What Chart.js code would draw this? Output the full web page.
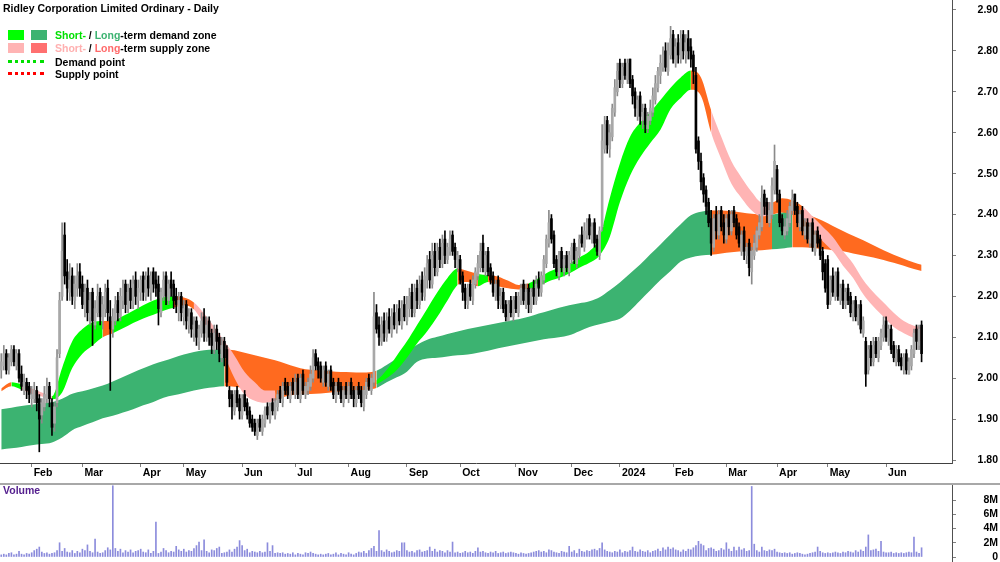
<!DOCTYPE html>
<html><head><meta charset="utf-8">
<script src="https://cdn.jsdelivr.net/npm/chart.js@4.4.1/dist/chart.umd.min.js"></script>
<style>
html,body{margin:0;padding:0;background:#fff;width:1000px;height:562px;overflow:hidden;font-family:"Liberation Sans",Arial,sans-serif;}
#wrap{position:relative;width:1000px;height:562px;}
#pc{position:absolute;left:0;top:0;}
#vc{position:absolute;left:0;top:485px;}
#sep{position:absolute;left:0;top:483px;width:1000px;height:2px;background:#a8a8a8;}
.t{position:absolute;font-weight:bold;font-size:10px;line-height:12px;white-space:nowrap;color:#000;z-index:5;}
.sw{position:absolute;width:16px;height:10px;z-index:5;}
.dl{position:absolute;width:36px;height:0;z-index:5;}
</style></head>
<body><div id="wrap">
<canvas id="pc" width="1000" height="483"></canvas>
<div id="sep"></div>
<canvas id="vc" width="1000" height="77"></canvas>
<div class="t" style="left:3px;top:2px;font-size:10.5px;">Ridley Corporation Limited Ordinary - Daily</div>
<div class="sw" style="left:8px;top:30px;background:#00ff00"></div>
<div class="sw" style="left:31px;top:30px;background:#3cb371"></div>
<div class="t" style="left:55px;top:29px;font-size:10.5px;"><span style="color:#00e000">Short-</span> / <span style="color:#3cb371">Long</span>-term demand zone</div>
<div class="sw" style="left:8px;top:43px;background:#ffb4b4"></div>
<div class="sw" style="left:31px;top:43px;background:#ff7070"></div>
<div class="t" style="left:55px;top:42px;font-size:10.5px;"><span style="color:#ffb0b0">Short-</span> / <span style="color:#ff6a6a">Long</span>-term supply zone</div>
<div class="dl" style="left:8px;top:60px;border-top:3px dotted #00e000"></div>
<div class="t" style="left:55px;top:56px;font-size:10.5px;">Demand point</div>
<div class="dl" style="left:8px;top:72px;border-top:3px dotted #ff0000"></div>
<div class="t" style="left:55px;top:68px;font-size:10.5px;">Supply point</div>
<div class="t" style="left:3px;top:484px;color:#55208f;font-size:10.5px;">Volume</div>
</div>
<script>
// ---- axis labels ----
const monthLabels = ['Feb','Mar','Apr','May','Jun','Jul','Aug','Sep','Oct','Nov','Dec','2024','Feb','Mar','Apr','May','Jun'];
const monthStart  = [12,32,55,72,95,116,137,160,181,203,225,244,265,286,306,326,349];
const priceTicks  = [1.8,1.9,2.0,2.1,2.2,2.3,2.4,2.5,2.6,2.7,2.8,2.9];
const volumeTicks = [0,2,4,6,8];

// ---- daily candles (trading day index 0..363) ----
const opens = [
2.02,2.03,2.06,2.02,2.04,2.07,2.03,2.06,2.01,1.97,1.99,1.98,
1.95,1.95,1.97,1.95,1.91,1.93,1.95,1.98,1.94,1.89,1.94,2.06,
2.20,2.35,2.26,2.21,2.25,2.19,2.22,
2.26,2.23,2.17,2.22,2.15,2.21,2.13,2.16,2.21,2.14,2.17,2.22,2.15,
2.12,2.14,2.19,2.15,2.19,2.23,2.17,2.22,2.18,2.24,2.19,2.21,2.25,2.20,2.25,2.21,2.26,
2.24,2.23,2.16,2.20,2.25,2.19,2.24,2.23,
2.20,2.16,2.20,2.15,2.18,2.13,2.16,2.11,2.14,2.09,2.11,2.15,
2.10,2.14,2.11,2.07,2.12,2.10,2.05,2.09,2.07,
1.97,1.96,1.92,1.97,1.95,1.91,1.96,1.94,1.92,1.90,1.89,
1.86,1.90,1.87,1.89,1.93,1.90,1.94,1.91,1.93,1.97,1.94,1.99,
1.98,1.95,1.99,1.96,2.00,1.95,2.01,1.96,1.97,1.98,2.00,2.06,2.04,
2.03,1.99,2.03,1.98,2.02,1.99,1.95,1.99,1.98,1.94,1.98,1.95,1.99,1.97,1.94,
1.98,1.97,1.93,1.96,2.00,1.97,1.99,
2.16,2.13,2.09,2.14,2.10,2.15,2.11,2.16,2.12,2.17,2.13,2.18,2.14,
2.17,2.21,2.16,2.22,2.18,2.24,2.20,2.24,2.29,2.23,
2.31,2.26,2.32,2.28,2.34,2.29,2.31,2.35,2.32,2.27,
2.29,2.25,2.22,2.18,2.23,2.19,
2.23,2.25,2.27,2.33,2.26,2.31,
2.27,2.25,2.20,2.24,2.18,2.21,2.18,
2.14,2.19,2.15,2.20,2.16,2.19,2.23,
2.18,2.22,2.17,2.22,2.19,2.24,
2.21,2.24,2.28,2.33,
2.39,2.35,2.29,2.25,2.31,2.26,
2.30,2.26,2.29,2.33,2.28,2.30,2.35,2.32,
2.35,2.39,2.34,2.38,2.34,2.30,
2.37,
2.56,2.63,2.56,2.59,2.65,
2.70,2.77,2.72,2.77,2.73,2.78,
2.73,2.70,2.64,2.69,2.63,2.66,2.61,2.63,
2.65,2.68,2.71,2.74,2.76,2.80,
2.75,2.79,2.84,2.77,2.82,2.78,2.84,2.79,
2.83,2.81,2.79,2.74,2.58,2.53,2.49,2.46,
2.43,2.39,2.32,2.40,2.35,2.41,2.38,2.34,2.40,2.36,2.41,2.39,
2.37,2.31,2.36,2.30,2.33,2.26,
2.30,2.32,2.35,2.37,2.45,2.43,
2.38,2.40,2.46,2.51,
2.45,2.39,2.35,2.36,2.38,2.41,
2.45,2.42,2.37,2.41,2.35,2.38,
2.33,2.38,2.31,2.36,2.34,2.31,2.28,
2.29,2.19,2.25,2.20,2.26,2.19,2.23,2.18,
2.22,2.20,2.15,2.19,2.14,2.18,2.11,
2.09,2.02,2.08,2.04,2.09,
2.05,2.08,2.10,2.14,2.09,2.12,2.08,
2.04,2.07,2.05,2.02,2.06,2.01,
2.03,2.06,2.12,2.08,2.13];

const highs = [
2.06,2.08,2.07,2.06,2.08,2.08,2.07,2.07,2.03,2.01,2.00,1.99,
1.98,1.99,1.98,1.96,1.95,1.98,2.00,1.99,1.95,1.94,2.07,2.21,
2.38,2.38,2.29,2.28,2.27,2.25,2.28,
2.28,2.25,2.23,2.24,2.21,2.22,2.19,2.23,2.22,2.20,2.23,2.24,2.19,
2.17,2.20,2.21,2.22,2.24,2.24,2.23,2.24,2.25,2.26,2.24,2.25,2.26,2.26,2.27,2.26,2.27,
2.26,2.25,2.22,2.26,2.26,2.24,2.26,2.24,
2.22,2.21,2.21,2.19,2.19,2.17,2.17,2.15,2.15,2.13,2.16,2.17,
2.15,2.15,2.12,2.13,2.13,2.11,2.10,2.10,2.08,
1.98,1.97,1.97,1.98,1.96,1.96,1.97,1.95,1.93,1.91,1.90,
1.90,1.91,1.91,1.93,1.94,1.94,1.95,1.95,1.97,1.98,1.99,2.00,
1.99,1.99,2.00,2.01,2.01,2.01,2.02,1.99,2.00,2.03,2.07,2.07,2.05,
2.04,2.03,2.04,2.02,2.03,2.00,1.99,2.00,1.99,1.98,1.99,1.99,2.00,1.98,1.98,
1.99,1.98,1.98,2.00,2.01,2.01,2.21,
2.18,2.15,2.15,2.16,2.16,2.17,2.17,2.18,2.18,2.19,2.19,2.20,2.20,
2.22,2.23,2.23,2.24,2.25,2.26,2.27,2.30,2.31,2.33,
2.33,2.33,2.34,2.35,2.36,2.33,2.36,2.36,2.33,2.31,
2.30,2.26,2.23,2.23,2.24,2.25,
2.27,2.30,2.33,2.35,2.31,2.32,
2.28,2.26,2.24,2.25,2.22,2.22,2.19,
2.19,2.20,2.20,2.21,2.21,2.23,2.24,
2.23,2.23,2.22,2.24,2.25,2.26,
2.26,2.30,2.35,2.41,
2.40,2.36,2.30,2.31,2.32,2.30,
2.31,2.31,2.33,2.34,2.32,2.35,2.37,2.38,
2.39,2.40,2.38,2.39,2.35,2.37,
2.62,
2.64,2.64,2.62,2.67,2.73,
2.77,2.78,2.77,2.78,2.78,2.78,
2.74,2.71,2.69,2.70,2.67,2.67,2.65,2.68,
2.71,2.74,2.76,2.79,2.81,2.82,
2.82,2.86,2.85,2.83,2.84,2.85,2.85,2.84,
2.85,2.83,2.80,2.76,2.59,2.55,2.50,2.47,
2.44,2.41,2.40,2.42,2.41,2.42,2.40,2.40,2.41,2.41,2.42,2.40,
2.38,2.36,2.37,2.33,2.34,2.32,
2.35,2.37,2.40,2.47,2.46,2.44,
2.43,2.49,2.57,2.52,
2.46,2.40,2.39,2.41,2.43,2.46,
2.45,2.43,2.41,2.42,2.39,2.39,
2.38,2.39,2.36,2.37,2.35,2.32,2.29,
2.30,2.25,2.27,2.26,2.27,2.23,2.24,2.22,
2.23,2.21,2.19,2.20,2.18,2.19,2.15,
2.10,2.08,2.09,2.10,2.10,
2.10,2.12,2.15,2.15,2.13,2.13,2.09,
2.08,2.08,2.06,2.06,2.07,2.05,
2.08,2.12,2.13,2.13,2.14];

const lows = [
2.00,2.02,2.01,2.01,2.03,2.03,2.02,1.99,1.97,1.96,1.95,1.94,
1.93,1.94,1.92,1.82,1.89,1.92,1.94,1.93,1.86,1.87,1.93,2.05,
2.19,2.23,2.19,2.19,2.18,2.17,2.20,
2.20,2.17,2.15,2.14,2.13,2.08,2.12,2.15,2.13,2.12,2.15,2.14,1.97,
2.10,2.13,2.14,2.14,2.17,2.16,2.16,2.17,2.17,2.18,2.17,2.19,2.19,2.19,2.20,2.19,2.21,
2.20,2.13,2.15,2.19,2.18,2.18,2.20,2.17,
2.16,2.14,2.14,2.13,2.12,2.11,2.10,2.09,2.08,2.07,2.10,2.09,
2.09,2.08,2.06,2.06,2.07,2.04,2.04,2.03,1.98,
1.93,1.90,1.91,1.93,1.90,1.90,1.92,1.90,1.88,1.87,1.86,
1.85,1.87,1.86,1.88,1.90,1.89,1.91,1.90,1.92,1.94,1.93,1.96,
1.95,1.94,1.96,1.95,1.95,1.94,1.96,1.95,1.96,1.97,1.99,2.02,2.00,
1.99,1.98,1.98,1.97,1.97,1.95,1.94,1.96,1.94,1.93,1.95,1.94,1.95,1.93,1.93,
1.95,1.93,1.92,1.95,1.97,1.96,1.98,
2.11,2.08,2.08,2.09,2.09,2.11,2.10,2.12,2.11,2.13,2.12,2.14,2.13,
2.15,2.15,2.15,2.17,2.17,2.19,2.19,2.22,2.22,2.22,
2.25,2.25,2.27,2.27,2.28,2.28,2.30,2.30,2.27,2.26,
2.23,2.19,2.17,2.17,2.19,2.18,
2.22,2.24,2.26,2.26,2.25,2.25,
2.23,2.20,2.19,2.17,2.17,2.16,2.14,
2.14,2.15,2.14,2.16,2.15,2.18,2.18,
2.17,2.16,2.16,2.18,2.18,2.20,
2.20,2.23,2.27,2.32,
2.33,2.27,2.25,2.24,2.26,2.25,
2.26,2.25,2.28,2.28,2.27,2.29,2.32,2.31,
2.34,2.34,2.33,2.32,2.30,2.29,
2.36,
2.55,2.55,2.54,2.58,2.64,
2.69,2.71,2.71,2.73,2.72,2.71,
2.67,2.64,2.63,2.62,2.61,2.60,2.60,2.62,
2.64,2.67,2.70,2.72,2.75,2.75,
2.74,2.78,2.77,2.76,2.77,2.77,2.78,2.77,
2.78,2.76,2.72,2.55,2.51,2.46,2.43,2.40,
2.37,2.30,2.31,2.34,2.34,2.36,2.33,2.33,2.35,2.35,2.37,2.34,
2.32,2.30,2.29,2.28,2.25,2.23,
2.29,2.31,2.34,2.36,2.40,2.38,
2.37,2.39,2.45,2.43,
2.37,2.35,2.34,2.35,2.37,2.40,
2.40,2.37,2.36,2.35,2.34,2.33,
2.32,2.31,2.30,2.32,2.29,2.24,2.21,
2.17,2.18,2.20,2.19,2.19,2.18,2.17,2.17,
2.18,2.15,2.14,2.14,2.13,2.11,2.10,
1.98,2.01,2.03,2.03,2.05,
2.04,2.07,2.09,2.09,2.08,2.06,2.04,
2.03,2.03,2.02,2.01,2.01,2.01,
2.02,2.05,2.07,2.07,2.04];

const closes = [
2.04,2.06,2.02,2.05,2.07,2.04,2.06,2.00,1.98,1.99,1.97,1.96,
1.96,1.97,1.94,1.90,1.94,1.96,1.98,1.95,1.88,1.93,2.05,2.19,
2.31,2.25,2.22,2.24,2.20,2.23,2.25,
2.22,2.18,2.21,2.16,2.19,2.14,2.17,2.20,2.15,2.18,2.21,2.16,2.12,
2.15,2.18,2.16,2.20,2.22,2.18,2.21,2.19,2.23,2.20,2.22,2.24,2.21,2.24,2.22,2.25,2.23,
2.22,2.17,2.21,2.24,2.20,2.23,2.22,2.19,
2.18,2.19,2.16,2.17,2.14,2.15,2.12,2.13,2.10,2.12,2.14,2.11,
2.13,2.10,2.08,2.11,2.09,2.06,2.08,2.05,1.99,
1.95,1.93,1.96,1.94,1.92,1.95,1.93,1.91,1.89,1.88,1.87,
1.89,1.88,1.90,1.92,1.91,1.93,1.92,1.94,1.96,1.95,1.98,1.97,
1.96,1.98,1.97,1.99,1.96,2.00,1.97,1.98,1.99,2.01,2.05,2.03,2.02,
2.00,2.02,1.99,2.01,1.98,1.96,1.98,1.97,1.95,1.97,1.96,1.98,1.96,1.95,1.97,
1.96,1.94,1.97,1.99,1.98,2.00,2.15,
2.12,2.10,2.13,2.11,2.14,2.12,2.15,2.13,2.16,2.14,2.17,2.15,2.18,
2.20,2.17,2.21,2.19,2.23,2.21,2.25,2.28,2.24,2.30,
2.27,2.31,2.29,2.33,2.30,2.32,2.34,2.31,2.29,2.30,
2.24,2.21,2.19,2.22,2.20,2.24,
2.26,2.28,2.31,2.27,2.30,2.26,
2.24,2.21,2.23,2.19,2.20,2.17,2.15,
2.18,2.16,2.19,2.17,2.20,2.22,2.19,
2.21,2.18,2.21,2.20,2.23,2.22,
2.25,2.29,2.34,2.38,
2.34,2.28,2.26,2.30,2.27,2.29,
2.27,2.30,2.32,2.29,2.31,2.34,2.33,2.36,
2.38,2.35,2.37,2.33,2.31,2.36,
2.58,
2.62,2.57,2.60,2.66,2.71,
2.75,2.73,2.76,2.74,2.77,2.72,
2.69,2.66,2.68,2.64,2.65,2.62,2.64,2.66,
2.69,2.72,2.75,2.77,2.79,2.76,
2.80,2.83,2.78,2.81,2.79,2.83,2.80,2.82,
2.80,2.78,2.75,2.56,2.53,2.48,2.45,2.42,
2.38,2.33,2.39,2.36,2.40,2.37,2.35,2.39,2.37,2.40,2.38,2.35,
2.33,2.35,2.31,2.32,2.27,2.31,
2.33,2.36,2.38,2.44,2.42,2.40,
2.41,2.47,2.53,2.45,
2.38,2.36,2.37,2.39,2.42,2.44,
2.41,2.38,2.40,2.36,2.37,2.34,
2.37,2.32,2.35,2.33,2.30,2.26,2.22,
2.18,2.24,2.21,2.25,2.20,2.22,2.19,2.21,
2.19,2.16,2.18,2.15,2.17,2.12,2.14,
2.01,2.07,2.05,2.08,2.06,
2.09,2.11,2.13,2.10,2.12,2.07,2.05,
2.06,2.04,2.03,2.05,2.02,2.04,
2.07,2.11,2.09,2.12,2.06];

// volume in millions of shares
const volumeM = [
0.3,0.4,0.3,0.5,0.6,0.3,0.4,0.8,0.4,0.3,
0.5,0.4,0.6,0.9,1.1,1.4,0.7,0.5,0.6,0.4,
0.5,0.6,0.9,2.0,0.8,1.2,0.7,0.6,0.9,0.5,
0.8,0.6,1.1,0.9,1.7,0.8,0.6,2.5,0.7,0.5,
0.6,0.9,1.3,1.0,10.0,1.2,0.8,1.1,0.6,0.9,
0.7,1.0,0.6,0.8,0.9,1.1,0.7,0.6,1.0,0.5,
0.8,4.9,0.5,0.7,1.2,0.9,0.6,0.8,0.7,1.5,
1.0,0.8,1.1,0.7,0.9,0.8,1.2,1.6,2.1,0.9,
2.4,0.8,0.6,1.0,0.9,1.2,1.4,0.5,0.6,0.7,
1.0,0.7,1.1,1.4,2.3,1.6,0.9,1.1,0.6,0.8,
0.7,0.6,0.8,0.6,0.7,2.0,0.8,1.6,0.5,0.6,
0.5,0.6,0.4,0.5,0.4,0.6,0.3,0.5,0.4,0.3,
0.6,0.5,0.7,0.5,0.4,0.3,0.4,0.3,0.4,0.5,
0.3,0.4,0.6,0.3,0.5,0.4,0.3,0.6,0.4,0.3,
0.5,0.7,0.6,0.8,0.5,0.9,1.2,1.5,0.8,3.7,
0.9,0.7,1.0,0.8,0.6,0.7,0.9,0.8,2.0,2.0,
0.9,0.7,0.8,0.6,0.9,1.0,0.7,0.8,0.9,1.4,
0.8,1.1,0.7,0.9,0.8,0.6,0.9,0.7,2.1,0.6,
0.7,0.5,0.6,0.8,0.6,0.7,0.5,0.8,1.3,0.7,
0.8,0.6,0.5,0.7,0.6,0.8,0.5,0.6,0.7,0.5,
0.6,0.7,0.6,0.5,0.4,0.6,0.5,0.4,0.5,0.6,
0.7,0.8,0.9,0.7,0.8,0.6,1.0,0.9,0.7,0.6,
0.5,0.8,0.7,0.6,1.5,0.7,0.9,0.5,1.1,0.8,
0.7,0.9,0.8,1.0,1.1,0.9,1.2,2.0,1.0,0.8,
0.7,0.6,0.8,0.7,1.0,0.6,0.8,0.7,0.9,1.4,
0.8,0.7,1.0,0.8,0.7,0.9,0.6,0.8,0.9,1.1,
0.8,1.3,1.0,1.4,1.1,1.3,1.0,0.9,0.7,1.0,
0.8,1.1,1.0,1.3,1.6,2.2,1.8,1.6,0.9,1.2,
1.3,1.1,0.8,0.9,1.2,1.0,2.0,1.1,0.8,1.4,
0.9,1.4,1.0,1.2,0.8,0.9,9.9,1.8,0.9,0.7,
1.4,0.9,0.8,1.0,0.9,1.1,0.7,0.6,0.5,0.6,
0.5,0.6,0.4,0.5,0.6,0.5,0.4,0.3,0.4,0.5,
0.6,0.7,1.4,0.8,0.6,0.5,0.6,0.5,0.6,0.7,
0.6,0.5,0.7,0.6,0.8,0.7,0.6,0.9,0.7,1.0,
0.8,1.4,3.1,0.9,1.0,1.1,0.8,2.2,0.7,0.6,
0.6,0.7,0.5,0.6,0.5,0.6,0.5,0.6,0.7,0.6,
2.8,0.7,0.5,1.3];

// ---- demand / supply zones, sampled every 4 trading days ----
const bandIdx = [0,4,8,12,16,20,24,28,32,36,40,44,48,52,56,60,64,68,72,76,80,84,88,92,96,100,104,108,112,116,120,124,128,132,136,140,144,148,152,156,160,164,168,172,176,180,184,188,192,196,200,204,208,212,216,220,224,228,232,236,240,244,248,252,256,260,264,268,272,276,280,284,288,292,296,300,304,308,312,316,320,324,328,332,336,340,344,348,352,356,360,363];
const shortUpper = [
1.975,1.990,1.985,1.975,1.965,1.956,2.025,2.090,2.120,2.137,
2.140,2.140,2.152,2.165,2.178,2.190,2.198,2.200,2.197,2.185,
2.158,2.125,2.090,2.055,2.015,1.990,1.970,1.970,1.975,1.985,
1.995,2.005,2.005,2.000,1.995,1.990,1.990,1.995,2.020,2.055,
2.090,2.130,2.170,2.210,2.245,2.268,2.262,2.255,2.252,2.248,
2.238,2.228,2.232,2.245,2.260,2.270,2.280,2.295,2.310,2.345,
2.440,2.525,2.590,2.625,2.650,2.680,2.710,2.735,2.752,2.735,
2.655,2.590,2.530,2.490,2.455,2.430,2.430,2.440,2.435,2.420,
2.395,2.370,2.345,2.310,2.280,2.240,2.210,2.185,2.160,2.140,
2.128,2.125];
const shortLower = [
1.968,1.980,1.972,1.962,1.955,1.948,1.965,2.025,2.060,2.080,
2.100,2.110,2.122,2.135,2.146,2.155,2.165,2.172,2.178,2.168,
2.132,2.100,2.055,2.000,1.960,1.945,1.940,1.945,1.955,1.960,
1.965,1.975,1.980,1.980,1.975,1.972,1.975,1.985,2.000,2.020,
2.050,2.085,2.115,2.150,2.190,2.228,2.235,2.225,2.235,2.225,
2.220,2.217,2.218,2.225,2.237,2.245,2.256,2.270,2.282,2.300,
2.345,2.430,2.495,2.540,2.575,2.607,2.658,2.685,2.705,2.690,
2.600,2.535,2.475,2.440,2.410,2.395,2.400,2.405,2.400,2.390,
2.365,2.335,2.310,2.275,2.245,2.205,2.175,2.150,2.125,2.110,
2.098,2.090];
const shortState = ['ogpppggggg','oggggggoop','pppppppooo','oooooooggg','gggggoogoo','oogggggggg','ggggggggoo','ppppppooop','pppppppppp','pp'].join('').split('');
const longUpper = [
1.924,1.928,1.932,1.935,1.938,1.941,1.950,1.962,1.968,1.975,
1.982,1.992,2.003,2.014,2.024,2.034,2.042,2.050,2.058,2.064,
2.068,2.070,2.071,2.068,2.062,2.056,2.050,2.044,2.036,2.028,
2.022,2.020,2.018,2.016,2.015,2.014,2.014,2.018,2.032,2.048,
2.064,2.082,2.094,2.101,2.108,2.114,2.120,2.125,2.130,2.135,
2.140,2.144,2.150,2.158,2.165,2.172,2.178,2.183,2.188,2.198,
2.215,2.234,2.256,2.278,2.303,2.327,2.352,2.376,2.398,2.407,
2.410,2.410,2.408,2.405,2.402,2.400,2.400,2.405,2.410,2.405,
2.395,2.385,2.372,2.360,2.348,2.337,2.325,2.313,2.302,2.292,
2.283,2.277];
const longLower = [
1.826,1.829,1.832,1.836,1.839,1.843,1.855,1.873,1.883,1.892,
1.902,1.908,1.916,1.924,1.934,1.942,1.952,1.958,1.964,1.970,
1.975,1.978,1.980,1.979,1.976,1.972,1.968,1.965,1.962,1.961,
1.961,1.962,1.964,1.966,1.968,1.970,1.972,1.976,1.990,2.002,
2.016,2.040,2.048,2.050,2.053,2.056,2.058,2.062,2.067,2.073,
2.078,2.083,2.088,2.093,2.097,2.100,2.105,2.115,2.125,2.132,
2.138,2.145,2.165,2.190,2.215,2.240,2.262,2.285,2.295,2.300,
2.302,2.305,2.308,2.310,2.312,2.313,2.315,2.317,2.320,2.320,
2.318,2.316,2.313,2.310,2.305,2.300,2.295,2.289,2.282,2.275,
2.267,2.262];
const longState = ['GGGGGGGGGG','GGGGGGGGGG','GGOOOOOOOO','OOOOOOOGGG','GGGGGGGGGG','GGGGGGGGGG','GGGGGGGGGG','OOOOOOGGOO','OOOOOOOOOO','OO'].join('').split('');

// ---- styles ----
const zoneColor = {g:'#00ff00', p:'#ffb4b4', o:'#ff6a1f', G:'#3cb371', O:'#ff6a1f'};
const FONT = {family:'"Liberation Sans", Arial, sans-serif', size:10.5, weight:'bold'};
const X_MIN = -0.5, X_MAX = 375;

const isUp = closes.map((c,i) => c >= opens[i]);
const wickData = closes.map((c,i) => ({x:i, y:[Math.min(lows[i],opens[i],c), Math.max(highs[i],opens[i],c)]}));
const bodyData = closes.map((c,i) => ({x:i, y:[opens[i], c]}));

function pts(arr){ return bandIdx.map((b,k) => ({x:b, y:arr[k]})); }
function zone(upper, lower, state, order){
  const base = {type:'line', order, pointRadius:0, borderWidth:0, borderColor:'rgba(0,0,0,0)', cubicInterpolationMode:'monotone'};
  return [
    Object.assign({}, base, {data:pts(upper), fill:'+1', backgroundColor:zoneColor[state[0]],
      segment:{backgroundColor: c => zoneColor[state[c.p0DataIndex]]}}),
    Object.assign({}, base, {data:pts(lower), fill:false})
  ];
}
function noPadY(s){ s.width = 46; s.paddingTop = 0; s.paddingBottom = 0; }

new Chart(document.getElementById('pc'), {
  type:'bar',
  data:{datasets:[
    ...zone(longUpper, longLower, longState, 4),
    ...zone(shortUpper, shortLower, shortState, 3),
    {type:'bar', order:1, data:wickData, grouped:false, barThickness:1,
     backgroundColor:isUp.map(u => u ? '#8a8a8a' : '#000000')},
    {type:'bar', order:0, data:bodyData, grouped:false, barThickness:2, minBarLength:1,
     backgroundColor:isUp.map(u => u ? '#a8a8a8' : '#000000')}
  ]},
  options:{
    responsive:false, animation:false, devicePixelRatio:1,
    layout:{padding:{left:0, right:2, top:0, bottom:0}},
    plugins:{legend:{display:false}, tooltip:{enabled:false}},
    scales:{
      x:{type:'linear', min:X_MIN, max:X_MAX, offset:false,
        afterBuildTicks: s => { s.ticks = monthStart.map(v => ({value:v})); },
        afterFit: s => { s.height = 20; s.paddingLeft = 0; s.paddingRight = 0; },
        ticks:{autoSkip:false, maxRotation:0, minRotation:0, align:'start', labelOffset:2, padding:0, color:'#000', font:FONT,
          callback:(v,i) => monthLabels[i]},
        grid:{drawOnChartArea:false, offset:false, tickLength:4, color:'#808080'},
        border:{display:true, color:'#404040', width:1}},
      y:{type:'linear', position:'right', min:1.7927, max:2.9244, beginAtZero:false,
        afterBuildTicks: s => { s.ticks = priceTicks.map(v => ({value:v})); },
        afterFit: noPadY,
        ticks:{autoSkip:false, crossAlign:'far', color:'#000', font:FONT, padding:2, callback: v => Number(v).toFixed(2)},
        grid:{drawOnChartArea:false, tickLength:4, color:'#808080'},
        border:{display:true, color:'#505050', width:1}}
    }
  }
});

new Chart(document.getElementById('vc'), {
  type:'bar',
  data:{datasets:[{data: volumeM.map((v,i) => ({x:i, y:v})), grouped:false, barThickness:1, backgroundColor:'#8c8cdc'}]},
  options:{
    responsive:false, animation:false, devicePixelRatio:1,
    layout:{padding:{left:0, right:2, top:0, bottom:0}},
    plugins:{legend:{display:false}, tooltip:{enabled:false}},
    scales:{
      x:{type:'linear', min:X_MIN, max:X_MAX, offset:false, display:false, grid:{offset:false}},
      y:{type:'linear', position:'right', min:-0.70, max:10.105, beginAtZero:false,
        afterBuildTicks: s => { s.ticks = volumeTicks.map(v => ({value:v})); },
        afterFit: noPadY,
        ticks:{autoSkip:false, crossAlign:'far', color:'#000', font:FONT, padding:2, callback: v => v === 0 ? '0' : v + 'M'},
        grid:{drawOnChartArea:false, tickLength:4, color:'#808080'},
        border:{display:true, color:'#505050', width:1}}
    }
  }
});
</script>
</body></html>
